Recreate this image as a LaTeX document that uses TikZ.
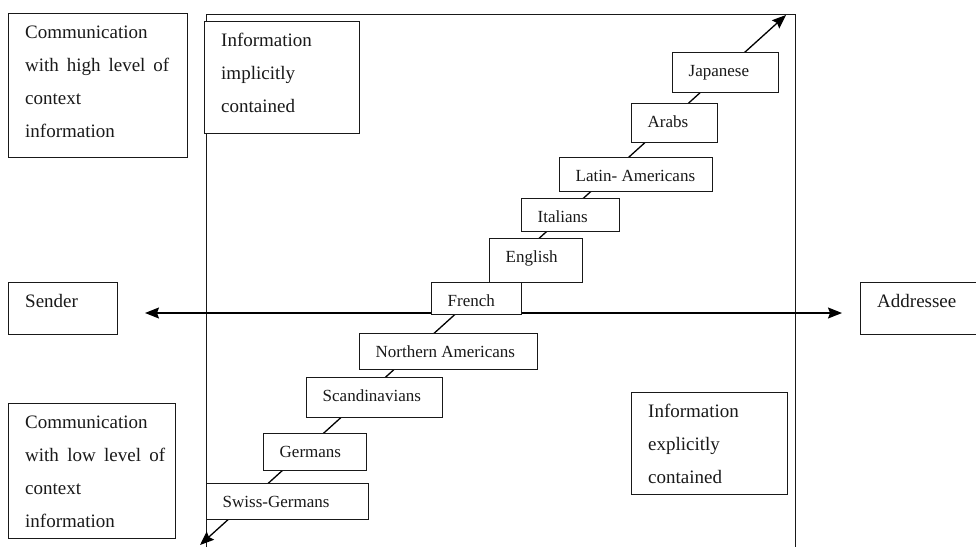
\documentclass[tikz,border=0pt]{standalone}
\usepackage{fontspec}
\setmainfont{Liberation Serif}
\usetikzlibrary{arrows.meta}
\tikzset{
  boxshape/.style={draw=black!90, fill=white, line width=1pt, inner sep=0pt, outer sep=0pt},
  outertext/.style={font=\fontsize{19}{33}\selectfont, inner sep=0pt, anchor=base west, text=black!90},
  innertext/.style={font=\fontsize{17}{20}\selectfont, inner sep=0pt, anchor=base west, text=black!90},
  frameline/.style={line width=1pt, draw=black!90},
  axisarrow/.style={line width=1.3pt, draw=black,
    {Stealth[length=14pt,width=11pt,inset=2pt]}-{Stealth[length=14pt,width=11pt,inset=2pt]}},
}
\newcommand\boxat[5]{%
  \node[boxshape, minimum width={(#4-#2)*1pt}, minimum height={(#5-#3)*1pt}] (#1) at ({(#2+#4)/2},{(#3+#5)/2}) {};%
}
\newcommand\innerlabel[2]{%
  \node[innertext] (#1-t) at ([xshift=16.5pt,yshift=-24pt]#1.north west) {#2};%
}
\newcommand\outerlabel[2]{%
  \node[outertext] (#1-t) at ([xshift=17pt,yshift=-25.5pt]#1.north west) {\parbox[t]{170pt}{#2}};%
}
\begin{document}
\begin{tikzpicture}[x=1pt,y=-1pt]
\clip (0,0) rectangle (976,547);
\fill[white] (0,0) rectangle (976,547);

% big frame (open at the bottom)
\coordinate (fbl) at (206,547);
\coordinate (ftl) at (206,14);
\coordinate (ftr) at (795,14);
\coordinate (fbr) at (795,547);
\draw[frameline] (fbl) -- (ftl) -- (ftr) -- (fbr);

% axes
\coordinate (hl) at (145,313);
\coordinate (hr) at (842,313);
\draw[axisarrow] (hl) -- (hr);
\coordinate (dl) at (200,545);
\coordinate (dr) at (786,15);
\draw[axisarrow] (dl) -- (dr);

% outer boxes
\boxat{commhigh}{8}{13}{187}{157}
\outerlabel{commhigh}{Communication\\\makebox[144pt][s]{with high level of}\\context\\information}
\boxat{implicit}{204}{21}{359}{133}
\outerlabel{implicit}{Information\\implicitly\\contained}
\boxat{commlow}{8}{403}{175}{538}
\outerlabel{commlow}{Communication\\\makebox[140pt][s]{with low level of}\\context\\information}
\boxat{explicit}{631}{392}{787}{494}
\outerlabel{explicit}{Information\\explicitly\\contained}
\boxat{sender}{8}{282}{117}{334}
\outerlabel{sender}{Sender}
\boxat{addressee}{860}{282}{990}{334}
\outerlabel{addressee}{Addressee}

% inner boxes along the diagonal
\boxat{japanese}{672}{52}{778}{92}
\innerlabel{japanese}{Japanese}
\boxat{arabs}{631}{103}{717}{142}
\innerlabel{arabs}{Arabs}
\boxat{latin}{559}{157}{712}{191}
\innerlabel{latin}{Latin- Americans}
\boxat{italians}{521}{198}{619}{231}
\innerlabel{italians}{Italians}
\boxat{english}{489}{238}{582}{282}
\innerlabel{english}{English}
\boxat{french}{431}{282}{521}{314}
\innerlabel{french}{French}
\boxat{northam}{359}{333}{537}{369}
\innerlabel{northam}{Northern Americans}
\boxat{scand}{306}{377}{442}{417}
\innerlabel{scand}{Scandinavians}
\boxat{germans}{263}{433}{366}{470}
\innerlabel{germans}{Germans}
\boxat{swiss}{206}{483}{368}{519}
\innerlabel{swiss}{Swiss-Germans}
\end{tikzpicture}
\end{document}
